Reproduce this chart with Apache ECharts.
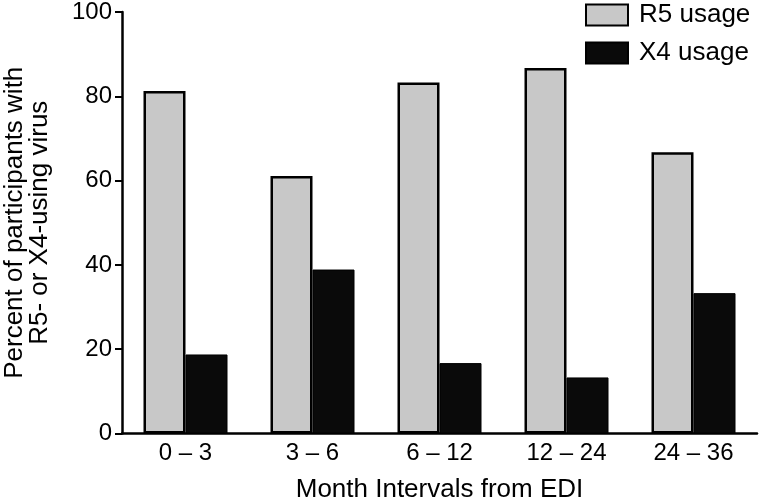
<!DOCTYPE html>
<html><head><meta charset="utf-8">
<script src="https://cdn.jsdelivr.net/npm/echarts@6/dist/echarts.min.js"></script>
<style>html,body{margin:0;padding:0;background:#fff}#c{width:760px;height:501px}</style>
</head><body><div id="c"></div>
<script>
var categories = ['0 \u2013 3', '3 \u2013 6', '6 \u2013 12', '12 \u2013 24', '24 \u2013 36'];
var r5Values = [81.25, 61.1, 83.3, 86.7, 66.7];
var x4Values = [18.75, 38.9, 16.7, 13.3, 33.3];
var yTicks = [0, 20, 40, 60, 80, 100];
var seriesNames = ['R5 usage', 'X4 usage'];
var font = 'Liberation Sans, Arial, Helvetica, sans-serif';
var chart = echarts.init(document.getElementById('c'));
chart.setOption({
  animation: false,
  textStyle: {fontFamily: font},
  grid: {left: 122, top: 12, right: 3, bottom: 67.5, containLabel: false, outerBoundsMode: 'none'},
  legend: {
    orient: 'vertical', left: 585, top: 2, padding: 0, itemWidth: 42, itemHeight: 21, itemGap: 12,
    icon: 'rect',
    textStyle: {fontSize: 26, color: '#000', fontFamily: font, padding: [0, 0, 0, 6]},
    data: seriesNames
  },
  xAxis: {
    type: 'category', data: categories,
    axisLine: {lineStyle: {color: '#000', width: 2.5}},
    axisTick: {show: false},
    axisLabel: {fontSize: 24, color: '#000', margin: 8, fontFamily: font},
    name: 'Month Intervals from EDI', nameLocation: 'middle', nameGap: 43,
    nameTextStyle: {fontSize: 26, color: '#000', fontFamily: font}
  },
  yAxis: {
    type: 'value', min: yTicks[0], max: yTicks[yTicks.length - 1], interval: 20,
    splitLine: {show: false},
    axisLine: {show: true, lineStyle: {color: '#000', width: 2.5}},
    axisTick: {show: true, length: 7, lineStyle: {color: '#000', width: 2}},
    axisLabel: {fontSize: 24, color: '#000', margin: 10, fontFamily: font},
    name: 'Percent of participants with\nR5- or X4-using virus', nameLocation: 'middle', nameGap: 70,
    nameRotate: 90,
    nameTextStyle: {fontSize: 26, color: '#000', lineHeight: 25, fontFamily: font}
  },
  series: [
    {name: seriesNames[0], type: 'bar', data: r5Values, barWidth: 42, barGap: '0%',
     itemStyle: {color: '#c8c8c8', borderColor: '#000', borderWidth: 2.5}},
    {name: seriesNames[1], type: 'bar', data: x4Values, barWidth: 42, barGap: '0%',
     itemStyle: {color: '#0a0a0a', borderColor: '#000', borderWidth: 1}}
  ]
});
</script></body></html>
